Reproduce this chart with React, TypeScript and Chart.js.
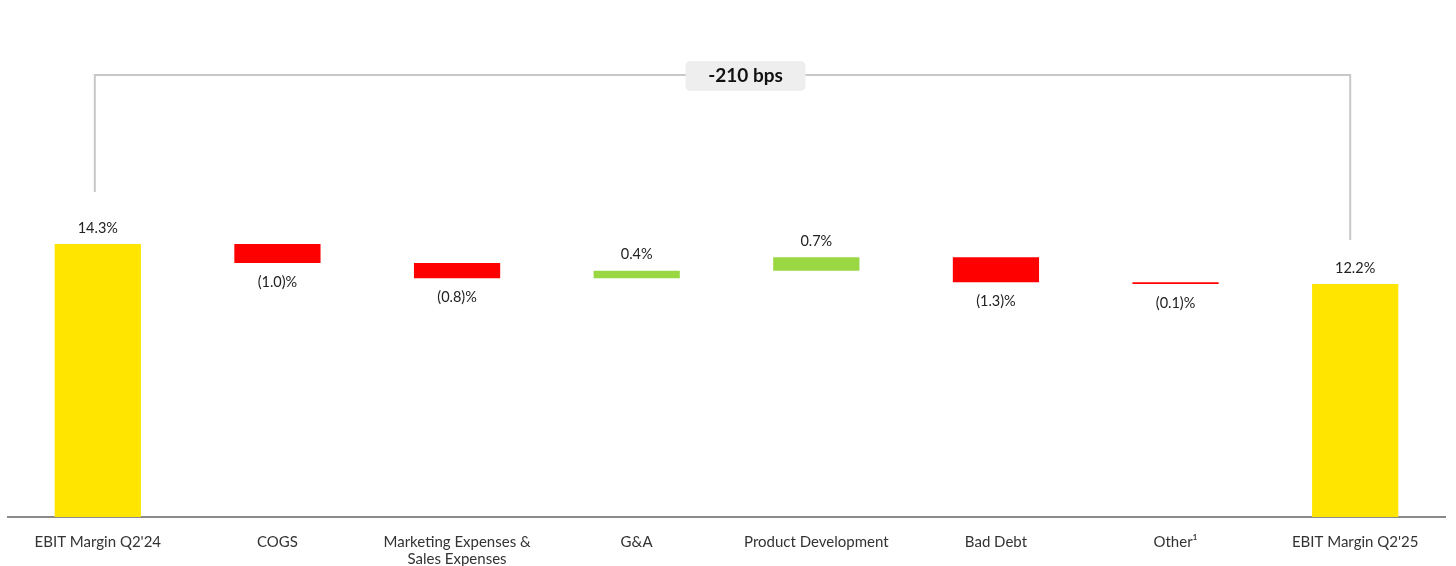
import React, { useEffect, useRef } from "react";
import { Chart, registerables } from "chart.js";

Chart.register(...registerables);

const categories: (string | string[])[] = [
  "EBIT Margin Q2'24",
  "COGS",
  ["Marketing Expenses &", "Sales Expenses"],
  "G&A",
  "Product Development",
  "Bad Debt",
  "Other¹",
  "EBIT Margin Q2'25",
];
const startValue = 14.3;
const changes = [-1.0, -0.8, 0.4, 0.7, -1.3, -0.1];
const endValue = 12.2;
const valueLabels = ["14.3%", "(1.0)%", "(0.8)%", "0.4%", "0.7%", "(1.3)%", "(0.1)%", "12.2%"];
const bracketText = "-210 bps";
const bracketLevel = 23.15;

const YELLOW = "#FFE500";
const RED = "#FF0000";
const GREEN = "#99D843";
const FONT = "Lato, 'Open Sans', sans-serif";

export default function App() {
  const ref = useRef<HTMLCanvasElement | null>(null);

  useEffect(() => {
    if (!ref.current) return;
    const ranges: [number, number][] = [];
    const colors: string[] = [];
    ranges.push([0, startValue]);
    colors.push(YELLOW);
    let cur = startValue;
    changes.forEach((c) => {
      const next = Math.round((cur + c) * 100) / 100;
      ranges.push([Math.min(cur, next), Math.max(cur, next)]);
      colors.push(c < 0 ? RED : GREEN);
      cur = next;
    });
    ranges.push([0, endValue]);
    colors.push(YELLOW);
    const positive = [true, ...changes.map((c) => c >= 0), true];

    const overlay = {
      id: "overlay",
      afterDatasetsDraw(chart: any) {
        const ctx = chart.ctx;
        const meta = chart.getDatasetMeta(0);
        const y = chart.scales.y;
        ctx.save();
        ctx.fillStyle = "#222";
        ctx.font = `14.5px ${FONT}`;
        ctx.textAlign = "center";
        ctx.textBaseline = "middle";
        meta.data.forEach((bar: any, i: number) => {
          const top = Math.min(bar.y, bar.base);
          const bottom = Math.max(bar.y, bar.base);
          if (positive[i]) ctx.fillText(valueLabels[i], bar.x, top - 16);
          else ctx.fillText(valueLabels[i], bar.x, bottom + 19);
        });
        const first = meta.data[0];
        const last = meta.data[meta.data.length - 1];
        const yTop = y.getPixelForValue(bracketLevel);
        const x1 = first.x - 3;
        const x2 = last.x - 5;
        ctx.strokeStyle = "#c8c8c8";
        ctx.lineWidth = 2;
        ctx.beginPath();
        ctx.moveTo(x1, Math.min(first.y, first.base) - 52);
        ctx.lineTo(x1, yTop);
        ctx.lineTo(x2, yTop);
        ctx.lineTo(x2, Math.min(last.y, last.base) - 44);
        ctx.stroke();
        const cx = (x1 + x2) / 2 + 23;
        const bw = 120;
        const bh = 30;
        ctx.fillStyle = "#eeeeee";
        ctx.beginPath();
        (ctx as any).roundRect(cx - bw / 2, yTop - 14, bw, bh, 5);
        ctx.fill();
        ctx.fillStyle = "#111";
        ctx.font = `bold 19px ${FONT}`;
        ctx.fillText(bracketText, cx, yTop + 1);
        ctx.restore();
      },
    };

    const chart = new Chart(ref.current, {
      type: "bar",
      data: {
        labels: categories as any,
        datasets: [
          {
            data: ranges as any,
            backgroundColor: colors,
            borderSkipped: false,
            categoryPercentage: 1,
            barPercentage: 0.48,
          },
        ],
      },
      options: {
        animation: false,
        responsive: true,
        maintainAspectRatio: false,
        layout: { padding: { left: 8, right: 11, top: 0, bottom: 0 } },
        plugins: { legend: { display: false }, tooltip: { enabled: false } },
        scales: {
          y: { display: false, min: 0, max: 27.08 },
          x: {
            grid: { display: false, drawTicks: false, tickLength: 0 },
            border: { color: "#8a8a8a", width: 2 },
            afterFit: (scale: any) => {
              scale.height = 49;
            },
            ticks: {
              color: "#333",
              font: { family: FONT, size: 15, lineHeight: 1.1 },
              padding: 17,
              maxRotation: 0,
              autoSkip: false,
            },
          },
        },
      },
      plugins: [overlay],
    });
    return () => chart.destroy();
  }, []);

  return (
    <div style={{ position: "absolute", left: 0, top: 0, width: 1456, height: 566, overflow: "hidden", background: "#fff" }}>
      <canvas ref={ref} />
    </div>
  );
}
